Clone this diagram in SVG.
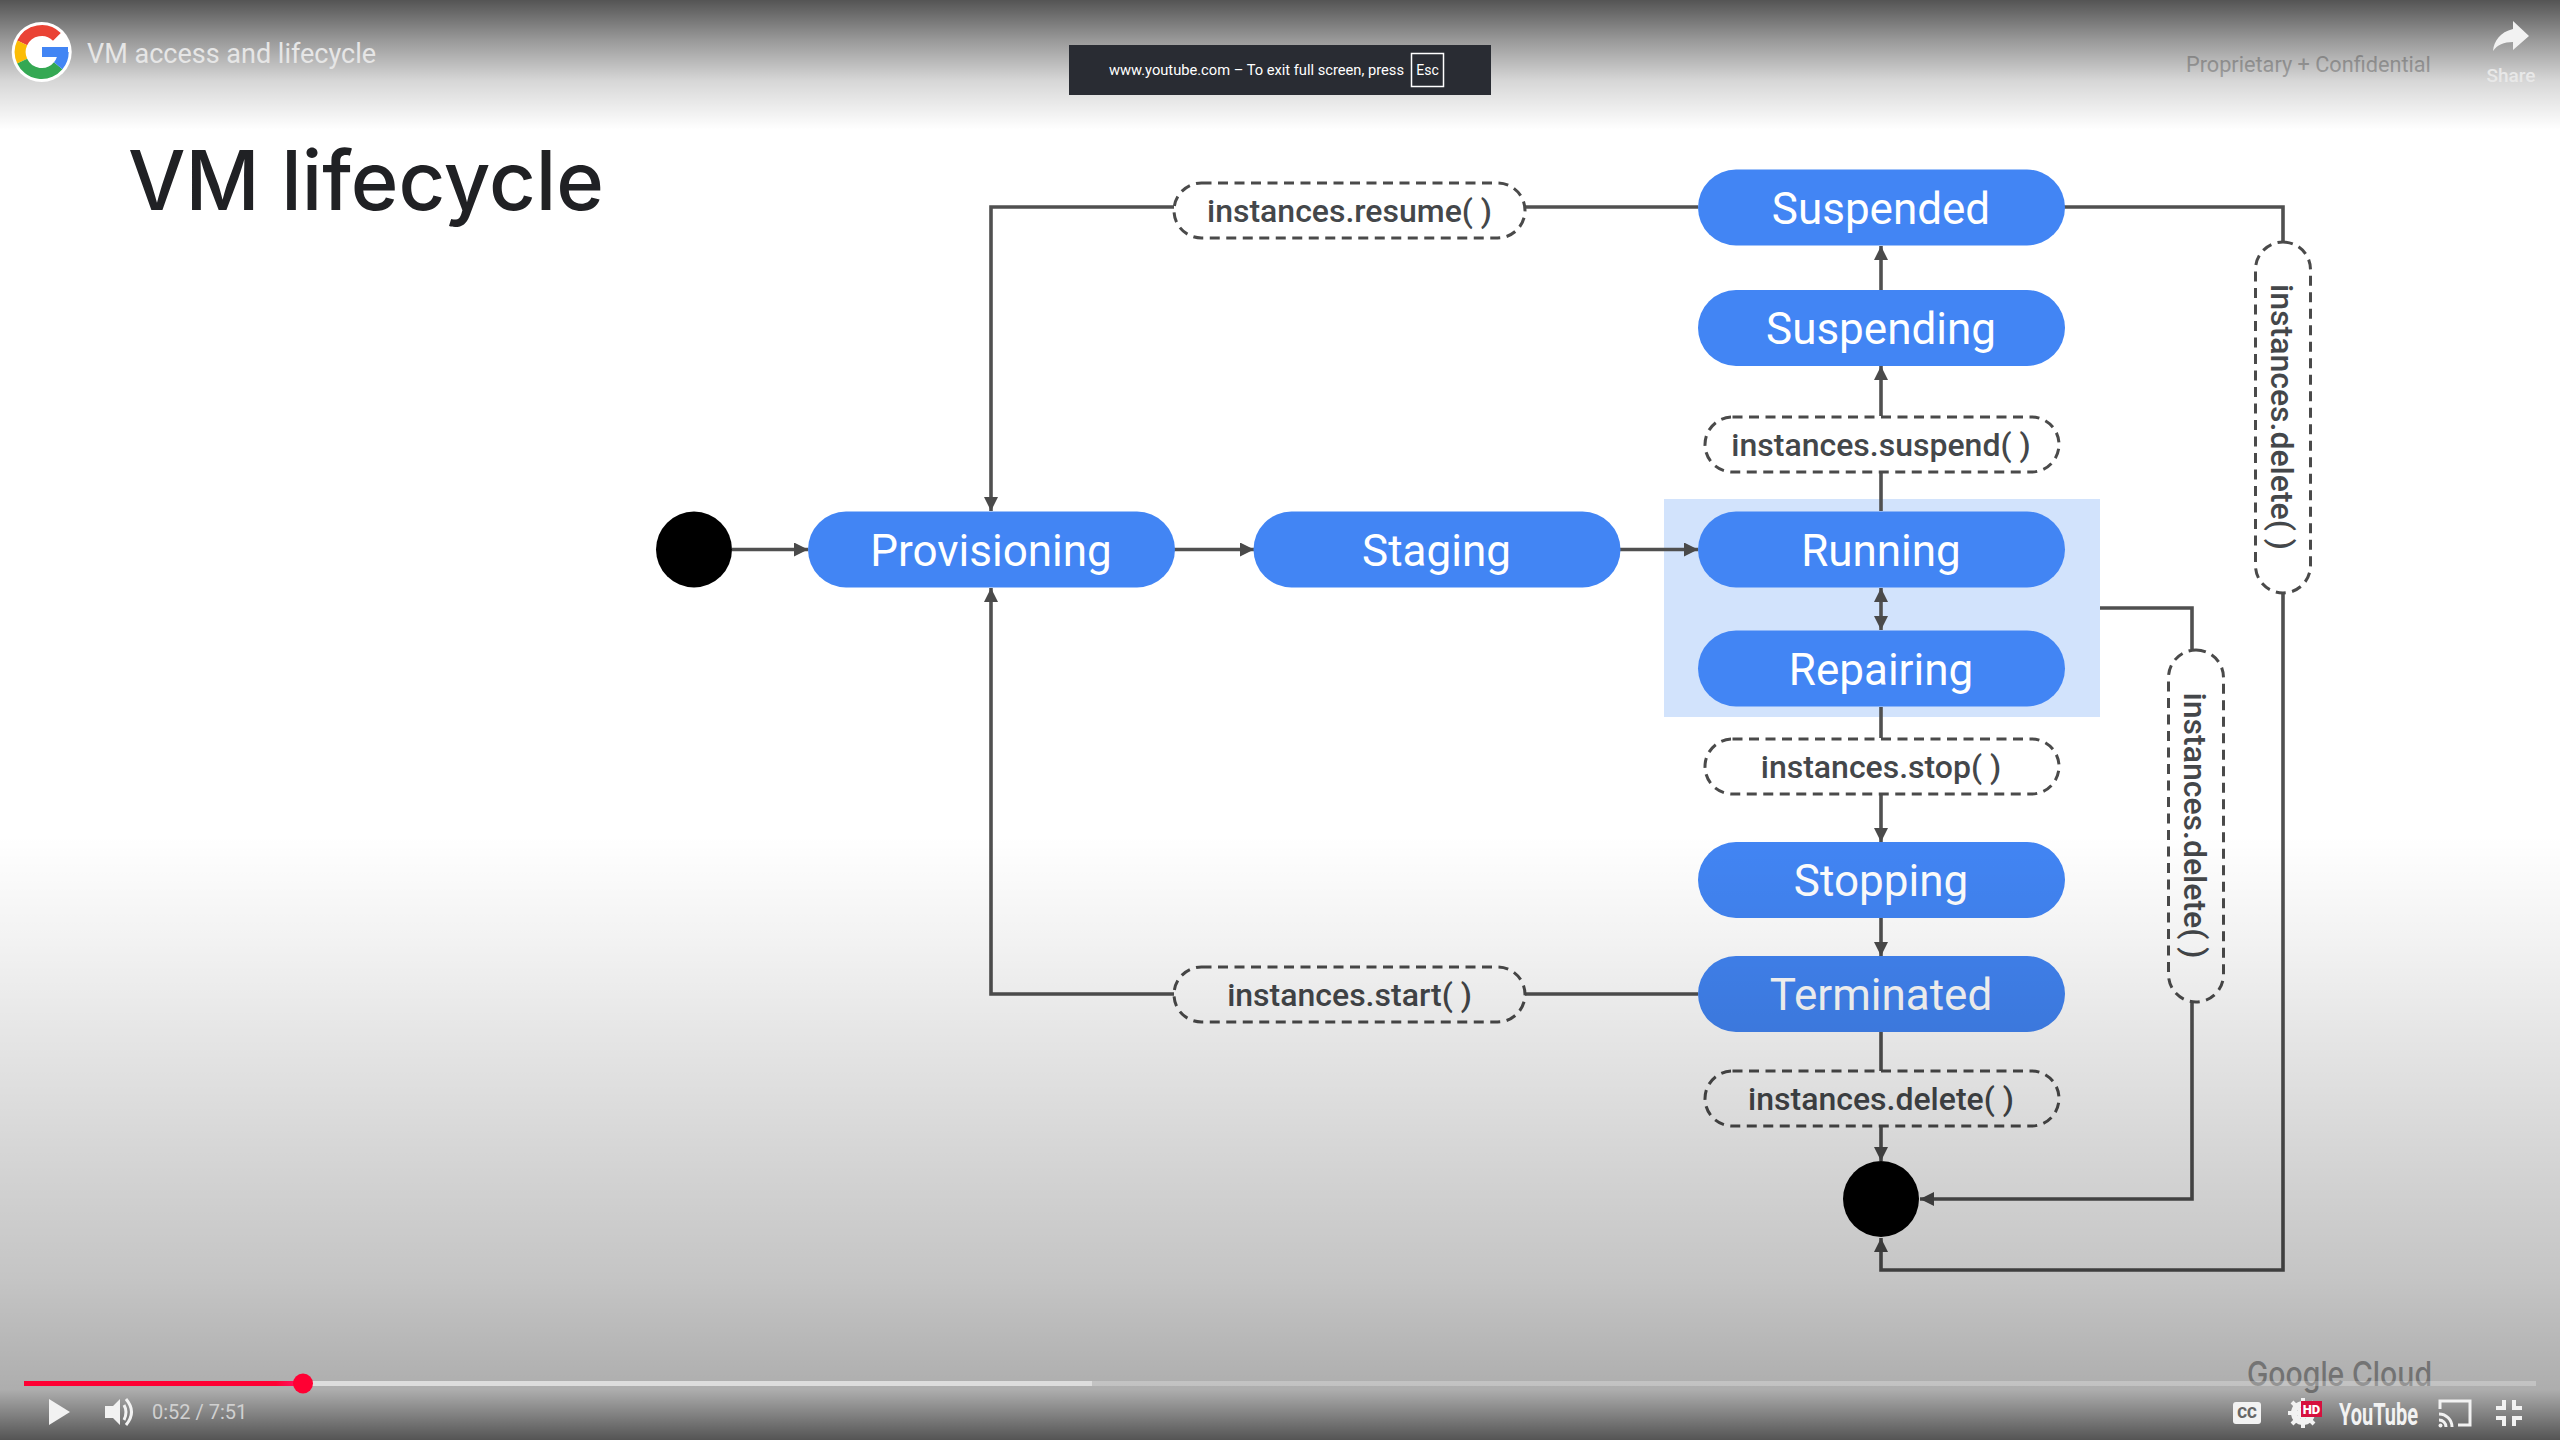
<svg xmlns="http://www.w3.org/2000/svg" width="2560" height="1440" viewBox="0 0 2560 1440">
<style>
.pill{fill:#4285f4}
.pt{font:400 44px Roboto,"Noto Sans",sans-serif;fill:#fff;text-anchor:middle}
.lab{fill:none;stroke:#4a4a4a;stroke-width:3;stroke-dasharray:10 6.500}
.lt{font:500 32px Roboto,"Noto Sans",sans-serif;fill:#44474a;text-anchor:middle}
.c{fill:none;stroke:#505050;stroke-width:3.600}
.ui{fill:#f2f2f2}
</style>
<defs>
<marker id="a" markerUnits="userSpaceOnUse" markerWidth="14" markerHeight="14" refX="14" refY="7" orient="auto-start-reverse"><path d="M0 0L14 7L0 14Z" fill="#4a4a4a"/></marker>
<linearGradient id="shade" x1="0" y1="0" x2="0" y2="1440" gradientUnits="userSpaceOnUse">
<stop offset="0" stop-color="#000" stop-opacity=".67"/>
<stop offset=".028" stop-color="#000" stop-opacity=".4"/>
<stop offset=".056" stop-color="#000" stop-opacity=".16"/>
<stop offset=".09" stop-color="#000" stop-opacity="0"/>
<stop offset=".58" stop-color="#000" stop-opacity="0"/>
<stop offset=".653" stop-color="#000" stop-opacity=".05"/>
<stop offset=".889" stop-color="#000" stop-opacity=".23"/>
<stop offset=".931" stop-color="#000" stop-opacity=".28"/>
<stop offset=".965" stop-color="#000" stop-opacity=".32"/>
<stop offset="1" stop-color="#000" stop-opacity=".67"/>
</linearGradient>
<linearGradient id="pg" x1="0" x2="1" y1="0" y2="0"><stop offset=".9" stop-color="#ff0033"/><stop offset="1" stop-color="#ff1a70"/></linearGradient>
</defs>
<rect width="2560" height="1440" fill="#fff"/>
<text x="128" y="210" font-family="Inter,Roboto,sans-serif" font-size="82" font-weight="500" fill="#202124" textLength="476" lengthAdjust="spacingAndGlyphs">VM lifecycle</text>
<text x="2186" y="72" font-family="Roboto,sans-serif" font-size="21.700" fill="#c0c0c0">Proprietary + Confidential</text>
<text x="2247" y="1386" font-family="Inter,Roboto,sans-serif" font-size="34" font-weight="500" fill="#a5a5a5" textLength="185" lengthAdjust="spacingAndGlyphs">Google Cloud</text>
<rect x="1664" y="499" width="436" height="218" fill="#d2e3fc"/>
<g id="connectors">
<path class="c" d="M1174 207H991V511" marker-end="url(#a)"/>
<path class="c" d="M1525 207H1698"/>
<path class="c" d="M732 549.5H808" marker-end="url(#a)"/>
<path class="c" d="M1174 549.5H1254" marker-end="url(#a)"/>
<path class="c" d="M1620 549.5H1698" marker-end="url(#a)"/>
<path class="c" d="M1881 511V472"/>
<path class="c" d="M1881 416V366" marker-end="url(#a)"/>
<path class="c" d="M1881 290V246" marker-end="url(#a)"/>
<path class="c" d="M1881 588V630" marker-start="url(#a)" marker-end="url(#a)"/>
<path class="c" d="M1881 707V738"/>
<path class="c" d="M1881 794V842" marker-end="url(#a)"/>
<path class="c" d="M1881 918V956" marker-end="url(#a)"/>
<path class="c" d="M1698 994H1525"/>
<path class="c" d="M1174 994H991V588" marker-end="url(#a)"/>
<path class="c" d="M1881 1032V1071"/>
<path class="c" d="M1881 1127V1161" marker-end="url(#a)"/>
<path class="c" d="M2064 207H2283V242"/>
<path class="c" d="M2283 593V1270H1881V1238" marker-end="url(#a)"/>
<path class="c" d="M2100 608H2192V649"/>
<path class="c" d="M2192 1002V1199H1920" marker-end="url(#a)"/>
</g>
<g id="start"><circle cx="694" cy="549.5" r="38" fill="#000"/></g>
<g id="end"><circle cx="1881" cy="1199" r="38" fill="#000"/></g>
<g id="provisioning"><rect class="pill" x="808" y="511.5" width="367" height="76" rx="38"/><text class="pt" x="991" y="565.500">Provisioning</text></g>
<g id="staging"><rect class="pill" x="1253.500" y="511.5" width="367" height="76" rx="38"/><text class="pt" x="1436.500" y="565.500">Staging</text></g>
<g id="running"><rect class="pill" x="1698" y="511.5" width="367" height="76" rx="38"/><text class="pt" x="1881" y="565.500">Running</text></g>
<g id="repairing"><rect class="pill" x="1698" y="630.5" width="367" height="76" rx="38"/><text class="pt" x="1881" y="684.500">Repairing</text></g>
<g id="suspended"><rect class="pill" x="1698" y="169.5" width="367" height="76" rx="38"/><text class="pt" x="1881" y="223.500">Suspended</text></g>
<g id="suspending"><rect class="pill" x="1698" y="290" width="367" height="76" rx="38"/><text class="pt" x="1881" y="344">Suspending</text></g>
<g id="stopping"><rect class="pill" x="1698" y="842" width="367" height="76" rx="38"/><text class="pt" x="1881" y="895.500">Stopping</text></g>
<g id="terminated"><rect class="pill" x="1698" y="956" width="367" height="76" rx="38"/><text class="pt" x="1881" y="1010">Terminated</text></g>
<g id="resume"><rect class="lab" x="1174" y="183" width="351" height="55" rx="27.500"/><text class="lt" x="1349.500" y="222">instances.resume( )</text></g>
<g id="start-call"><rect class="lab" x="1174" y="967" width="351" height="55" rx="27.500"/><text class="lt" x="1349.500" y="1006">instances.start( )</text></g>
<g id="suspend"><rect class="lab" x="1705" y="417" width="354" height="55" rx="27.500"/><text class="lt" x="1881" y="456">instances.suspend( )</text></g>
<g id="stop"><rect class="lab" x="1705" y="739" width="354" height="55" rx="27.500"/><text class="lt" x="1881" y="778">instances.stop( )</text></g>
<g id="delete"><rect class="lab" x="1705" y="1071" width="354" height="55" rx="27.500"/><text class="lt" x="1881" y="1110">instances.delete( )</text></g>
<g id="delete-suspended"><rect class="lab" x="2255.500" y="242" width="55" height="351" rx="27.500"/><text class="lt" transform="translate(2271 417) rotate(90)">instances.delete( )</text></g>
<g id="delete-running"><rect class="lab" x="2168.500" y="650" width="55" height="352" rx="27.500"/><text class="lt" transform="translate(2184 825.500) rotate(90)">instances.delete( )</text></g>
<rect width="2560" height="1440" fill="url(#shade)"/>
<circle cx="41.700" cy="52" r="30" fill="#fff"/>
<g fill="none" stroke-width="11">
<path d="M22.200 42.900A21.500 21.500 0 0 1 56.900 36.800" stroke="#ea4335"/>
<path d="M22.200 42.900A21.500 21.500 0 0 0 22.200 61.100" stroke="#fbbc05"/>
<path d="M22.200 61.100A21.500 21.500 0 0 0 58.200 65.800" stroke="#34a853"/>
<path d="M58.200 65.800A21.500 21.500 0 0 0 63.200 52" stroke="#4285f4"/>
</g>
<rect x="42" y="47" width="26" height="10" fill="#4285f4"/>
<text x="87" y="63" font-family="Roboto,sans-serif" font-size="27" fill="#e6e6e6">VM access and lifecycle</text>
<rect x="1069" y="45" width="422" height="50" fill="#292c33"/>
<text x="1109" y="75" font-family="Roboto,sans-serif" font-size="15" fill="#fff" textLength="295" lengthAdjust="spacingAndGlyphs">www.youtube.com – To exit full screen, press</text>
<rect x="1411.500" y="53.500" width="32" height="33" fill="none" stroke="#fff" stroke-width="1.500"/>
<text x="1427.500" y="75" font-family="Roboto,sans-serif" font-size="14" fill="#fff" text-anchor="middle">Esc</text>
<path class="ui" d="M2513 21L2529 36L2513 50V42C2504 42 2497 45 2493 51C2494 41 2500 32 2513 29Z"/>
<text x="2511" y="82" font-family="Roboto,sans-serif" font-size="19" font-weight="500" fill="#e8e8e8" text-anchor="middle">Share</text>
<rect x="24" y="1381" width="2512" height="5" fill="#fff" fill-opacity=".25"/>
<rect x="24" y="1381" width="1068" height="5" fill="#ddd"/>
<rect x="24" y="1381" width="280" height="5" fill="url(#pg)"/>
<circle cx="303" cy="1383.500" r="10" fill="#ff0033"/>
<path class="ui" d="M49 1399L70 1412L49 1425Z"/>
<path class="ui" d="M105 1406H113L120 1399V1425L113 1418H105Z"/>
<path d="M124 1405Q128 1412 124 1420M126 1399Q137 1412 126 1425" fill="none" stroke="#f2f2f2" stroke-width="3"/>
<text x="152" y="1419" font-family="Roboto,sans-serif" font-size="20" fill="#d0d0d0">0:52 / 7:51</text>
<rect x="2233" y="1402" width="28" height="22" rx="3" fill="#f2f2f2"/>
<text x="2247" y="1418" font-family="Roboto,sans-serif" font-size="15" font-weight="900" fill="#666" text-anchor="middle">CC</text>
<circle cx="2303" cy="1413" r="9" fill="none" stroke="#f2f2f2" stroke-width="6"/>
<path d="M2303 1398V1428M2288 1413H2318M2292 1402L2314 1424M2314 1402L2292 1424" stroke="#f2f2f2" stroke-width="4"/>
<rect x="2301" y="1401" width="21" height="16" fill="#d6103e"/>
<text x="2311.500" y="1414" font-family="Roboto,sans-serif" font-size="13" font-weight="900" fill="#fff" text-anchor="middle">HD</text>
<text x="2339" y="1425" font-family="Roboto,sans-serif" font-size="32" font-weight="700" fill="#f2f2f2" textLength="79" lengthAdjust="spacingAndGlyphs">YouTube</text>
<path d="M2440 1409V1401H2470V1425H2458" fill="none" stroke="#f2f2f2" stroke-width="3"/>
<path d="M2439 1414A13 13 0 0 1 2452 1427M2439 1420A7 7 0 0 1 2446 1427" fill="none" stroke="#f2f2f2" stroke-width="3"/><circle cx="2440.500" cy="1425.500" r="2" fill="#f2f2f2"/>
<path d="M2496 1408H2504V1400M2514 1400V1408H2522M2496 1418H2504V1426M2514 1426V1418H2522" fill="none" stroke="#f2f2f2" stroke-width="4"/>
</svg>
